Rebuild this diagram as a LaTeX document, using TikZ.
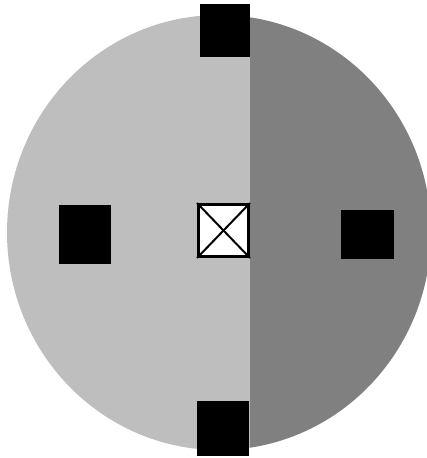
\documentclass[tikz,border=0pt]{standalone}
\begin{document}
\begin{tikzpicture}[x=1pt,y=-1pt,
  blk/.style={rectangle,fill=black,inner sep=0pt,outer sep=0pt},
  xbox/.style={rectangle,draw=black,fill=white,line width=3pt,inner sep=0pt,minimum width=50pt,minimum height=52pt}]
\definecolor{lightg}{gray}{0.745}
\definecolor{darkg}{gray}{0.5}
\useasboundingbox (0,0) rectangle (427,458);
\begin{scope}
  \clip (0,0) rectangle (250,458);
  \fill[lightg] (219,232.5) ellipse [x radius=212, y radius=217.5];
\end{scope}
\begin{scope}
  \clip (250,0) rectangle (427,458);
  \fill[darkg] (219,232.5) ellipse [x radius=212, y radius=217.5];
\end{scope}
\node[blk,minimum width=50pt,minimum height=53pt] (top) at (225,30.5) {};
\node[blk,minimum width=52pt,minimum height=55pt] (bottom) at (223,428.5) {};
\node[blk,minimum width=52pt,minimum height=59pt] (left) at (85,234.5) {};
\node[blk,minimum width=53pt,minimum height=49pt] (right) at (367.5,234.5) {};
\node[xbox] (c) at (223.5,230.5) {};
\draw[line width=2pt] (c.north west) -- (c.south east);
\draw[line width=2pt] (c.north east) -- (c.south west);
\end{tikzpicture}
\end{document}
